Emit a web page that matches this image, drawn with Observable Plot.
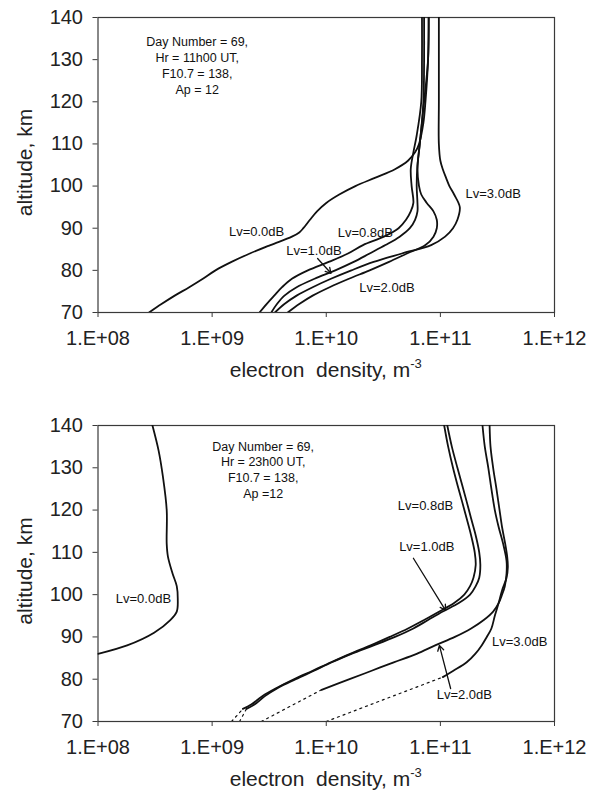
<!DOCTYPE html>
<html>
<head>
<meta charset="utf-8">
<script src="https://cdn.jsdelivr.net/npm/d3@7"></script>
<script src="https://cdn.jsdelivr.net/npm/@observablehq/plot@0.6"></script>
<style>
  html, body { margin: 0; padding: 0; background: #fff; }
  #charts svg { display: block; }
</style>
</head>
<body>
<div id="charts"></div>
<script>
// ---------- axis ticks ----------
const xTicks = [1e8, 1e9, 1e10, 1e11, 1e12];
const xTickLabels = ["1.E+08", "1.E+09", "1.E+10", "1.E+11", "1.E+12"];
const yTicks = [70, 80, 90, 100, 110, 120, 130, 140];
const xTitle = "electron  density, m";
const xTitleSup = "-3";
const yTitle = "altitude, km";

// ---------- top panel: 11h00 UT  ([altitude km, electron density m^-3]) ----------
const day_Lv00 = [[70,2.8e8],[72,3.6e8],[74,4.7e8],[76,6.3e8],[78,8.3e8],[80,1.07e9],[82,1.48e9],[84,2.14e9],[86,3.24e9],[88,5.0e9],[89,5.8e9],[90,6.3e9],[92,7.2e9],[94,8.3e9],[96,1.0e10],[98,1.3e10],[100,1.8e10],[102,2.7e10],[104,4.0e10],[106,5.2e10],[108,6.0e10],[110,6.5e10],[115,7.1e10],[120,7.4e10],[130,7.8e10],[140,7.9e10]];
const day_Lv08 = [[70,2.6e9],[72,3.0e9],[74,3.5e9],[76,4.1e9],[78,5.0e9],[80,6.9e9],[82,1.05e10],[84,1.55e10],[86,2.1e10],[88,3.2e10],[90,4.3e10],[92,5.0e10],[94,5.5e10],[96,5.8e10],[100,5.6e10],[104,5.5e10],[108,5.8e10],[112,6.2e10],[120,6.8e10],[130,6.9e10],[140,6.9e10]];
const day_Lv10 = [[70,3.3e9],[72,3.7e9],[74,4.3e9],[76,5.5e9],[78,7.9e9],[80,1.2e10],[82,1.74e10],[84,2.4e10],[86,3.3e10],[88,4.4e10],[90,5.4e10],[92,6.0e10],[94,6.3e10],[96,6.3e10],[100,6.2e10],[105,6.3e10],[110,6.6e10],[120,7.1e10],[130,7.2e10],[140,7.2e10]];
const day_Lv20 = [[70,4.6e9],[72,5.8e9],[74,7.6e9],[76,1.07e10],[78,1.58e10],[80,2.4e10],[82,3.55e10],[84,5.1e10],[86,7.4e10],[88,8.7e10],[90,9.3e10],[92,9.3e10],[94,8.7e10],[96,7.6e10],[98,6.8e10],[100,6.5e10],[104,6.3e10],[110,6.6e10],[120,7.2e10],[130,7.8e10],[140,7.9e10]];
const day_Lv30 = [[70,3.55e9],[72,4.3e9],[74,5.5e9],[76,7.6e9],[78,1.1e10],[80,1.66e10],[82,2.6e10],[84,4.6e10],[86,8.3e10],[88,1.1e11],[90,1.29e11],[92,1.41e11],[95,1.48e11],[98,1.32e11],[100,1.2e11],[102,1.12e11],[104,1.05e11],[106,1.0e11],[110,9.7e10],[120,9.7e10],[140,9.7e10]];

// ---------- bottom panel: 23h00 UT ----------
const night_Lv00 = [[86,1.0e8],[88,1.8e8],[91,3.1e8],[94,4.3e8],[96,4.9e8],[99,5.0e8],[102,4.9e8],[105,4.5e8],[109,4.1e8],[112,4.0e8],[120,4.0e8],[128,3.7e8],[134,3.4e8],[140,3.0e8]];
const night_Lv08 = [[73,1.86e9],[74,2.2e9],[76,2.75e9],[78,3.7e9],[80,5.2e9],[82,7.6e9],[84,1.1e10],[86,1.62e10],[88,2.45e10],[90,3.6e10],[92,5.2e10],[94,7.2e10],[96,9.8e10],[98,1.32e11],[100,1.62e11],[102,1.82e11],[104,1.95e11],[107,2.04e11],[110,2.0e11],[114,1.86e11],[118,1.7e11],[122,1.55e11],[126,1.41e11],[130,1.29e11],[135,1.17e11],[140,1.08e11]];
const night_Lv08_dotted = [[70,1.48e9],[73,1.86e9]];
const night_Lv10 = [[73,2.0e9],[74,2.35e9],[76,2.9e9],[78,3.8e9],[80,5.4e9],[82,7.8e9],[84,1.12e10],[86,1.66e10],[88,2.6e10],[90,4.0e10],[92,5.8e10],[94,7.8e10],[96,1.05e11],[98,1.45e11],[100,1.82e11],[102,2.04e11],[104,2.19e11],[107,2.24e11],[110,2.19e11],[114,2.04e11],[118,1.86e11],[122,1.7e11],[126,1.55e11],[130,1.41e11],[135,1.26e11],[140,1.15e11]];
const night_Lv10_dotted = [[70,1.74e9],[73,2.0e9]];
const night_Lv20 = [[77.5,9.1e9],[80,1.6e10],[82,2.5e10],[84,3.9e10],[86,6.2e10],[88,9.0e10],[90,1.34e11],[92,1.86e11],[94,2.4e11],[96,2.9e11],[98,3.24e11],[100,3.47e11],[102,3.67e11],[105,3.8e11],[108,3.8e11],[112,3.55e11],[116,3.24e11],[120,3.0e11],[125,2.8e11],[130,2.63e11],[135,2.45e11],[140,2.34e11]];
const night_Lv20_dotted = [[70,2.7e9],[77.5,9.1e9]];
const night_Lv30 = [[80.5,1.05e11],[82,1.3e11],[84,1.7e11],[86,2.02e11],[88,2.3e11],[90,2.55e11],[92,2.8e11],[95,3.0e11],[98,3.24e11],[101,3.47e11],[104,3.8e11],[106.5,3.9e11],[109,3.85e11],[112,3.7e11],[116,3.47e11],[120,3.3e11],[125,3.1e11],[130,2.9e11],[135,2.75e11],[140,2.7e11]];
const night_Lv30_dotted = [[70,1.0e10],[80.5,1.05e11]];

// ---------- labels, notes and arrows (data coordinates) ----------
const dayLabels = [
  {text: "Lv=0.0dB", ne: 2.45e9, alt: 89.2},
  {text: "Lv=0.8dB", ne: 2.2e10, alt: 89.0},
  {text: "Lv=1.0dB", ne: 7.8e9, alt: 84.7},
  {text: "Lv=2.0dB", ne: 3.4e10, alt: 75.9},
  {text: "Lv=3.0dB", ne: 2.9e11, alt: 98.2}
];
const dayNote = ["Day Number = 69,", "Hr = 11h00 UT,", "F10.7 = 138,", "Ap = 12"];
const dayNoteAlt = [134.1, 130.4, 126.7, 122.9];
const dayNoteNe = 7.4e8;
const dayArrows = [{ne1: 8.4e9, alt1: 82.8, ne2: 1.1e10, alt2: 79.3}];

const nightLabels = [
  {text: "Lv=0.0dB", ne: 2.5e8, alt: 99.1},
  {text: "Lv=0.8dB", ne: 7.4e10, alt: 121.1},
  {text: "Lv=1.0dB", ne: 7.6e10, alt: 111.2},
  {text: "Lv=2.0dB", ne: 1.62e11, alt: 76.2},
  {text: "Lv=3.0dB", ne: 4.95e11, alt: 88.9}
];
const nightNote = ["Day Number = 69,", "Hr = 23h00 UT,", "F10.7 = 138,", "Ap =12"];
const nightNoteAlt = [135.0, 131.3, 127.5, 123.7];
const nightNoteNe = 2.8e9;
const nightArrows = [
  {ne1: 5.8e10, alt1: 108.6, ne2: 1.11e11, alt2: 96.3},
  {ne1: 1.23e11, alt1: 77.8, ne2: 9.8e10, alt2: 88.0}
];

const FONT = "Liberation Sans, Arial, Helvetica, sans-serif";

function rows(series) {
  return series.flatMap(([name, pts]) => pts.map(([alt, ne]) => ({name, alt, ne})));
}

function panel({solid, dotted, labels, note, noteAlt, noteNe, arrows, marginTop, marginBottom, height}) {
  const noteRows = note.map((t, i) => ({text: t, alt: noteAlt[i], ne: noteNe}));
  const svg = Plot.plot({
    width: 600,
    height,
    marginLeft: 97.5,
    marginRight: 46,
    marginTop,
    marginBottom,
    style: {fontFamily: FONT, fontSize: "20px", color: "#222", background: "#fff", overflow: "visible"},
    x: {type: "log", domain: [1e8, 1e12]},
    y: {domain: [70, 140]},
    marks: [
      Plot.frame({stroke: "#3a3a3a", strokeWidth: 1.2}),
      Plot.axisX({ticks: xTicks, tickFormat: d => xTickLabels[xTicks.indexOf(d)], tickSize: 5, tickPadding: 13, label: null, stroke: "#3a3a3a"}),
      Plot.axisY({ticks: yTicks, tickSize: 5, tickPadding: 10, label: null, stroke: "#3a3a3a"}),
      Plot.line(rows(solid), {x: "ne", y: "alt", z: "name", curve: "catmull-rom", stroke: "#111", strokeWidth: 1.8, clip: true}),
      Plot.line(rows(dotted), {x: "ne", y: "alt", z: "name", stroke: "#111", strokeWidth: 1.2, strokeDasharray: "2,4", clip: true}),
      Plot.arrow(arrows, {x1: "ne1", y1: "alt1", x2: "ne2", y2: "alt2", stroke: "#111", strokeWidth: 1.3, headLength: 7}),
      Plot.text(labels, {x: "ne", y: "alt", text: "text", fontSize: 13, fill: "#111"}),
      Plot.text(noteRows, {x: "ne", y: "alt", text: "text", fontSize: 12.5, fill: "#111"})
    ]
  });
  const s = d3.select(svg);
  const plotTop = marginTop, plotBottom = height - marginBottom;
  const t = s.append("text")
    .attr("x", (97.5 + 554) / 2)
    .attr("y", plotBottom + 65)
    .attr("text-anchor", "middle")
    .attr("font-size", 21)
    .attr("fill", "#222")
    .style("white-space", "pre")
    .text(xTitle);
  t.append("tspan").attr("dy", -9).attr("font-size", 13).text(xTitleSup);
  s.append("text")
    .attr("transform", `translate(31.5,${(plotTop + plotBottom) / 2 - 2}) rotate(-90)`)
    .attr("text-anchor", "middle")
    .attr("font-size", 21)
    .attr("fill", "#222")
    .text(yTitle);
  return svg;
}

const topSvg = panel({
  solid: [["0.0", day_Lv00], ["0.8", day_Lv08], ["1.0", day_Lv10], ["2.0", day_Lv20], ["3.0", day_Lv30]],
  dotted: [],
  labels: dayLabels, note: dayNote, noteAlt: dayNoteAlt, noteNe: dayNoteNe, arrows: dayArrows,
  marginTop: 17, marginBottom: 85, height: 397
});
const bottomSvg = panel({
  solid: [["0.0", night_Lv00], ["0.8", night_Lv08], ["1.0", night_Lv10], ["2.0", night_Lv20], ["3.0", night_Lv30]],
  dotted: [["0.8", night_Lv08_dotted], ["1.0", night_Lv10_dotted], ["2.0", night_Lv20_dotted], ["3.0", night_Lv30_dotted]],
  labels: nightLabels, note: nightNote, noteAlt: nightNoteAlt, noteNe: nightNoteNe, arrows: nightArrows,
  marginTop: 28, marginBottom: 73, height: 397
});
const root = document.getElementById("charts");
root.appendChild(topSvg);
root.appendChild(bottomSvg);
</script>
</body>
</html>
